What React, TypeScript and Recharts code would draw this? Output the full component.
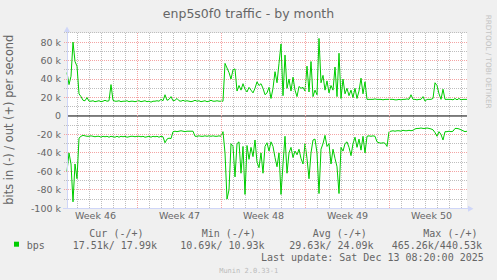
import React from 'react';
import { ComposedChart, Line, XAxis, YAxis, CartesianGrid, ReferenceLine } from 'recharts';

// 4-hour consolidation steps, time axis in days from the left edge of the graph
const STEP_DAYS = 4 / 24;

// out (+) traffic, kbit/s
const outK = [
  47, 34, 43, 80, 59, 54, 24, 21, 17, 16.5,
  20, 16, 16, 16.5, 15.5, 16, 16.5, 15.5, 16, 17,
  16, 16.5, 34, 17, 16, 16, 16.5, 15.5, 16, 16,
  16.5, 15.5, 16, 16, 15.5, 16, 16.5, 15.5, 16, 16.5,
  15.5, 16, 15, 16, 16, 16.5, 16, 18, 16.5, 23,
  17, 18, 21, 16.5, 17, 19, 16.5, 16, 17, 16,
  16.5, 16, 15.5, 16, 17, 16, 16.5, 15.5, 16, 16.5,
  15.5, 16, 17, 16, 16, 16.5, 16, 16, 16, 57,
  52, 47, 40, 50, 51, 27, 33, 28, 35, 29,
  26, 31, 28, 25, 30, 37, 33, 35, 30, 23,
  25, 31, 19, 30, 48, 36, 57, 78, 22, 66,
  30, 40, 27, 42, 28, 21, 32, 30, 31, 27,
  54, 26, 59, 21, 28, 23, 84, 36, 44, 28,
  38, 25, 33, 28, 53, 21, 68, 19, 40, 24,
  30, 22, 28, 20, 30, 19, 27, 41, 24, 37,
  18, 18, 18, 18, 18.5, 18, 18, 18, 17.5, 18,
  18, 18, 18, 18, 17.5, 17.5, 18, 17.5, 18, 18,
  18.5, 18, 23, 18, 18, 17.5, 18, 18, 21, 16,
  18, 18, 18, 19, 36, 33, 24, 18, 29, 18,
  18, 18, 18, 17.5, 19, 17.5, 19, 17.5, 18, 18,
  18,
];

// in (-) traffic, kbit/s (magnitudes, drawn below zero)
const inK = [
  60, 40, 52, 93, 52, 68, 24, 22, 21, 21.5,
  22, 22, 21.5, 22, 22.5, 22, 22, 23, 22, 22.5,
  22, 23, 22, 22.5, 23, 22, 23, 22, 22.5, 22,
  23, 22.5, 22, 22, 22.5, 22, 22, 22.5, 22, 23,
  22.5, 22, 23, 22, 22.5, 22, 23, 22, 22.5, 29,
  25, 24, 24.5, 17, 16.5, 17, 16.5, 16, 16.5, 17,
  16.5, 16.5, 16.5, 16.5, 22, 22, 21.5, 22, 22, 21.5,
  22, 21.5, 22, 21.5, 22, 22, 21.5, 22, 17, 40,
  90, 80, 30, 33, 66, 30, 28, 62, 33, 85,
  32, 47, 34, 44, 26, 50, 56, 40, 62, 33,
  29, 38, 28, 33, 45, 55, 40, 85, 52, 22,
  62, 40, 34, 45, 38, 42, 36, 46, 52, 30,
  46, 68, 40, 26, 25, 40, 84, 36, 30, 21,
  33, 30, 52, 36, 46, 55, 84, 34, 38, 30,
  28, 34, 43, 30, 23, 34, 25, 37, 22, 40,
  22, 21.5, 22, 21.5, 22, 28, 29, 29.5, 29, 29.5,
  33, 17, 16.5, 16, 16.5, 16, 16, 16.5, 15.5, 16,
  16, 15.5, 16, 15.5, 14, 13.5, 13.5, 13, 13.5, 13.5,
  13, 13.5, 14, 15, 18, 22, 17, 20, 26, 17,
  17, 16.5, 17, 16.5, 13.5, 13.5, 14, 15, 16, 17,
  16.5,
];

const weekLabels = ['Week 46', 'Week 47', 'Week 48', 'Week 49', 'Week 50'];
const firstMondayDay = 5.875; // first week boundary, days from graph start
const yTicks = [-100, -80, -60, -40, -20, 0, 20, 40, 60, 80];
const yMinorGrid = [-90, -70, -50, -30, -10, 10, 30, 50, 70, 90];
const yMajorGrid = [-80, -60, -40, -20, 20, 40, 60, 80];
const Y_DOMAIN: [number, number] = [-100, 90];

const title = 'enp5s0f0 traffic - by month';
const yLabel = 'bits in (-) / out (+) per second';
const watermark = 'RRDTOOL / TOBI OETIKER';
const seriesName = 'bps';
const legendHeaders = ['Cur (-/+)', 'Min (-/+)', 'Avg (-/+)', 'Max (-/+)'];
const legendValues = ['17.51k/ 17.99k', '10.69k/ 10.93k', '29.63k/ 24.09k', '465.26k/440.53k'];
const lastUpdate = 'Last update: Sat Dec 13 08:20:00 2025';
const version = 'Munin 2.0.33-1';

const data = outK.map((v, i) => ({ t: i * STEP_DAYS, out: v, in: -inK[i] }));
const xMax = (outK.length - 1) * STEP_DAYS;

const dayLines: number[] = [];
const weekLines: number[] = [];
for (let d = firstMondayDay - Math.floor(firstMondayDay); d <= xMax + 1e-6; d += 1) {
  const k = Math.round(d - firstMondayDay);
  if (k % 7 === 0 && d >= firstMondayDay - 1e-6) weekLines.push(d);
  else dayLines.push(d);
}
const weekCenters = weekLabels.map((_, i) => firstMondayDay - 7 + 3.5 + 7 * i);

// chart geometry
const W = 497;
const H = 280;
const MARGIN = { top: 32.9, right: 30, bottom: 51.7, left: 0 };
const Y_AXIS_W = 67;
const X_AXIS_H = 20;
const plotL = MARGIN.left + Y_AXIS_W;
const plotR = W - MARGIN.right;
const plotT = MARGIN.top;
const plotB = H - MARGIN.bottom - X_AXIS_H;
const gx = (d: number) => plotL + (d / xMax) * (plotR - plotL);
const gy = (v: number) => plotT + ((Y_DOMAIN[1] - v) / (Y_DOMAIN[1] - Y_DOMAIN[0])) * (plotB - plotT);

const GREEN = '#00CC00';
const AXIS = '#CFD6F8';
const FONT = '#666666';
const MINOR = '#BEBEBE';
const MAJOR = '#F4A4A4';
const SANS = 'DejaVu Sans, sans-serif';
const MONO = 'DejaVu Sans Mono, monospace';

const legendHeaderX = [89.3, 201.7, 312.7, 423.3];
const legendValueX = [72.7, 180.3, 289.3, 391.7];

export default function App() {
  return (
    <div style={{ position: 'absolute', left: 0, top: 0, width: W, height: H, background: '#F0F0F0' }}>
      <style>{`.recharts-cartesian-grid line { shape-rendering: crispEdges; }`}</style>
      {/* plot canvas + horizontal grid (under the chart) */}
      <svg width={W} height={H} style={{ position: 'absolute', left: 0, top: 0 }}>
        <rect x={plotL} y={plotT} width={plotR - plotL} height={plotB - plotT} fill="#FFFFFF" />
        {yMinorGrid.map((v) => (
          <line key={'m' + v} x1={plotL - 3} x2={plotR} y1={gy(v)} y2={gy(v)} stroke={MINOR} strokeDasharray="1 1" shapeRendering="crispEdges" />
        ))}
        {yMajorGrid.map((v) => (
          <line key={'M' + v} x1={plotL - 3} x2={plotR} y1={gy(v)} y2={gy(v)} stroke={MAJOR} strokeDasharray="1 1" shapeRendering="crispEdges" />
        ))}
      </svg>
      <div style={{ position: 'absolute', left: 0, top: 0 }}>
        <ComposedChart width={W} height={H} data={data} margin={MARGIN}>
          <CartesianGrid
            xAxisId="day"
            yAxisId="minor"
            horizontal={false}
            stroke={MINOR}
            strokeDasharray="1 1"
            syncWithTicks
          />
          <XAxis
            type="number"
            dataKey="t"
            domain={[0, xMax]}
            ticks={weekCenters}
            interval={0}
            tickFormatter={(v: number) => weekLabels[weekCenters.indexOf(v)] ?? ''}
            axisLine={false}
            tickLine={false}
            tickSize={0}
            tickMargin={4}
            height={X_AXIS_H}
            tick={{ fill: FONT, fontSize: 9.5, fontFamily: SANS }}
          />
          <XAxis xAxisId="day" type="number" dataKey="t" domain={[0, xMax]} ticks={dayLines} interval={0} hide />
          <YAxis
            type="number"
            domain={Y_DOMAIN}
            ticks={yTicks}
            interval={0}
            tickFormatter={(v: number) => (v === 0 ? '0' : `${v} k`)}
            axisLine={false}
            tickLine={false}
            tickSize={0}
            tickMargin={6}
            width={Y_AXIS_W}
            tick={{ fill: FONT, fontSize: 9.5, fontFamily: SANS }}
          />
          <YAxis yAxisId="minor" type="number" domain={Y_DOMAIN} ticks={yMinorGrid} interval={0} hide />
          <ReferenceLine y={0} stroke="#000000" strokeWidth={1} />
          <Line type="linear" dataKey="out" stroke={GREEN} strokeWidth={1} dot={false} isAnimationActive={false} />
          <Line type="linear" dataKey="in" stroke={GREEN} strokeWidth={1} dot={false} isAnimationActive={false} />
        </ComposedChart>
      </div>
      <svg width={W} height={H} style={{ position: 'absolute', left: 0, top: 0, pointerEvents: 'none' }}>
        {weekLines.map((d) => (
          <line key={'w' + d} x1={gx(d)} x2={gx(d)} y1={plotT} y2={plotB} stroke={MAJOR} strokeDasharray="1 1" shapeRendering="crispEdges" />
        ))}
        {/* axes with arrows */}
        <line x1={67} y1={208.8} x2={67} y2={30} stroke={AXIS} strokeWidth={1} shapeRendering="crispEdges" />
        <polygon points="64,32 70,32 67,26.5" fill={AXIS} />
        <line x1={63} y1={208.8} x2={469} y2={208.8} stroke={AXIS} strokeWidth={1} shapeRendering="crispEdges" />
        <polygon points="468,205.8 468,211.8 473.5,208.8" fill={AXIS} />

        <text x={248.5} y={18} textAnchor="middle" fontFamily={SANS} fontSize={12.5} fill={FONT}>
          {title}
        </text>
        <text
          x={13.3}
          y={119.7}
          transform="rotate(-90 13.3 119.7)"
          textAnchor="middle"
          fontFamily={SANS}
          fontSize={11.4}
          fill={FONT}
        >
          {yLabel}
        </text>
        <text
          x={485.5}
          y={61.7}
          transform="rotate(90 485.5 61.7)"
          textAnchor="middle"
          fontFamily={SANS}
          fontSize={7.3}
          fill="#C4C4C4"
        >
          {watermark}
        </text>

        {legendHeaders.map((h, i) => (
          <text key={h} x={legendHeaderX[i]} y={237} fontFamily={MONO} fontSize={10} fill={FONT} xmlSpace="preserve" style={{ whiteSpace: 'pre' }}>
            {h}
          </text>
        ))}
        <rect x={14} y={241.7} width={5} height={5} fill={GREEN} />
        <text x={26.7} y={249} fontFamily={MONO} fontSize={10} fill={FONT}>
          {seriesName}
        </text>
        {legendValues.map((v, i) => (
          <text key={v} x={legendValueX[i]} y={249} fontFamily={MONO} fontSize={10} fill={FONT} xmlSpace="preserve" style={{ whiteSpace: 'pre' }}>
            {v}
          </text>
        ))}
        <text x={261} y={261} fontFamily={MONO} fontSize={10} fill={FONT} xmlSpace="preserve" style={{ whiteSpace: 'pre' }}>
          {lastUpdate}
        </text>
        <text x={248.7} y={272.5} textAnchor="middle" fontFamily={MONO} fontSize={7} fill="#BBBBBB">
          {version}
        </text>
      </svg>
    </div>
  );
}
